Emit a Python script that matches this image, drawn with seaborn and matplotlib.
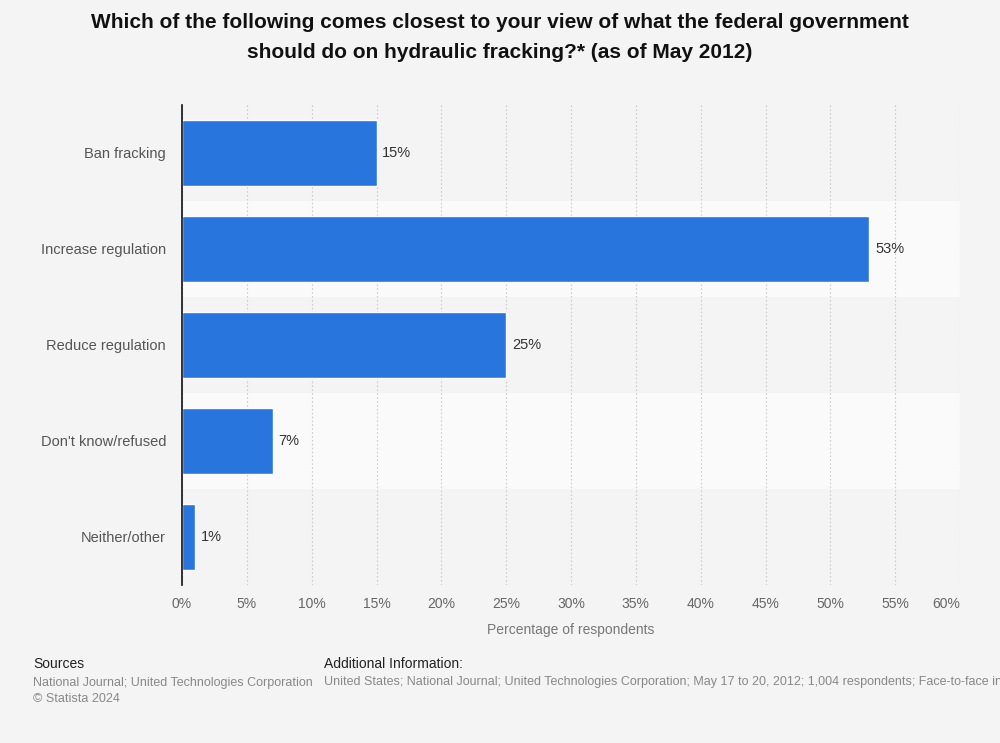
import numpy as np
import pandas as pd
import matplotlib
matplotlib.use("Agg")
import matplotlib.pyplot as plt
import seaborn as sns

categories = ["Ban fracking", "Increase regulation", "Reduce regulation",
              "Don't know/refused", "Neither/other"]
values = [15, 53, 25, 7, 1]
x_ticks = [0, 5, 10, 15, 20, 25, 30, 35, 40, 45, 50, 55, 60]

title = ("Which of the following comes closest to your view of what the federal government\n"
         "should do on hydraulic fracking?* (as of May 2012)")
x_label = "Percentage of respondents"
sources_text = "National Journal; United Technologies Corporation\n\u00a9 Statista 2024"
info_text = ("United States; National Journal; United Technologies Corporation; May 17 to 20, 2012; "
             "1,004 respondents; Face-to-face interviews")

df = pd.DataFrame({"category": categories, "value": values})

sns.set_theme(style="white")
plt.rcParams["font.family"] = ["Liberation Sans", "DejaVu Sans"]

bg = "#f4f4f4"
fig = plt.figure(figsize=(10, 7.43), dpi=100, facecolor=bg)
ax = fig.add_axes([0.182, 0.2127, 0.778, 0.6460])
ax.set_facecolor(bg)

# alternating row bands
for i in range(len(categories)):
    ax.axhspan(i - 0.5, i + 0.5, color=bg if i % 2 == 0 else "#fafafa", zorder=0, lw=0)

sns.barplot(data=df, x="value", y="category", orient="h", color="#2876dd",
            width=0.69, saturation=1, ax=ax, zorder=3)

for i, v in enumerate(values):
    ax.text(v + 0.45, i, f"{v}%", va="center", ha="left", fontsize=10.5,
            color="#333333", zorder=4)

ax.set_xlim(0, 60)
ax.set_ylim(len(categories) - 0.5, -0.5)
ax.set_xticks(x_ticks)
ax.set_xticklabels([f"{t}%" for t in x_ticks])
ax.xaxis.grid(True, linestyle=(0, (1.5, 2)), color="#cccccc", linewidth=0.8, zorder=1)
ax.set_axisbelow(True)
ax.tick_params(axis="x", length=0, pad=9, labelsize=10, labelcolor="#666666")
ax.tick_params(axis="y", length=0, pad=11.5, labelsize=10.5, labelcolor="#555555")
ax.get_xticklabels()[-1].set_horizontalalignment("right")
ax.set_xlabel(x_label, fontsize=10, color="#777777", labelpad=8)
ax.set_ylabel("")

for s in ["top", "right", "bottom"]:
    ax.spines[s].set_visible(False)
ax.spines["left"].set_color("#111111")
ax.spines["left"].set_linewidth(1.2)
ax.spines["left"].set_zorder(5)

fig.text(0.5, 0.950, title, ha="center", va="center", fontsize=15,
         fontweight="bold", color="#111111", linespacing=1.75)

fig.text(0.033, 0.106, "Sources", fontsize=10, color="#222222", va="center")
fig.text(0.033, 0.070, sources_text, fontsize=9, color="#888888", va="center",
         linespacing=1.5)
fig.text(0.324, 0.106, "Additional Information:", fontsize=10, color="#222222", va="center")
fig.text(0.324, 0.082, info_text, fontsize=9, color="#888888", va="center")

fig.savefig("out.png", dpi=100, facecolor=bg)
